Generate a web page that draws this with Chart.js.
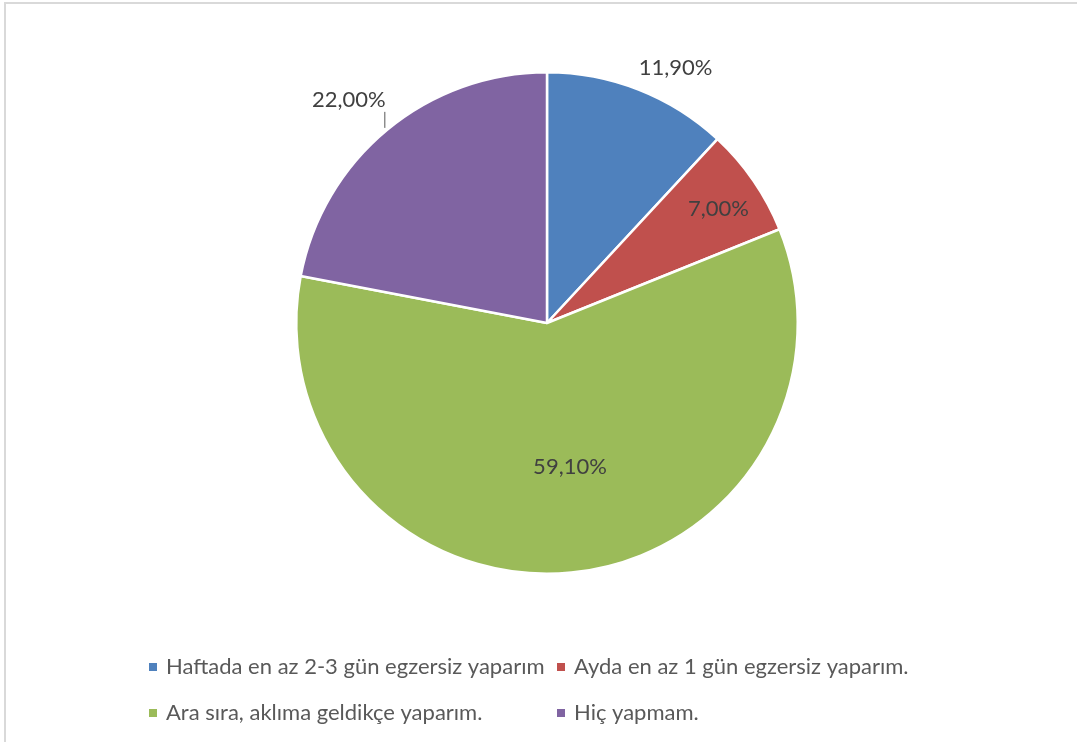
<!DOCTYPE html>
<html>
<head>
<meta charset="utf-8">
<script src="https://cdn.jsdelivr.net/npm/chart.js@4/dist/chart.umd.min.js"></script>
<style>
  html, body { margin: 0; padding: 0; background: #fff; }
  #wrap { position: relative; width: 1077px; height: 742px; overflow: hidden; }
  #frame { position: absolute; left: 4px; top: 2px; width: 1100px; height: 760px;
           border-top: 2px solid #d9d9d9; border-left: 2px solid #d9d9d9; }
  canvas { position: absolute; left: 0; top: 0; }
</style>
</head>
<body>
<div id="wrap">
  <div id="frame"></div>
  <canvas id="myChart"></canvas>
</div>
<script>
const categories = [
    'Haftada en az 2-3 gün egzersiz yaparım',
    'Ayda en az 1 gün egzersiz yaparım.',
    'Ara sıra, aklıma geldikçe yaparım.',
    'Hiç yapmam.'
];
const percents = [11.9, 7.0, 59.1, 22.0];
const colors = ['#4F81BD', '#C0504D', '#9BBB59', '#8064A2'];

const FONT = '22px Lato, "Open Sans", sans-serif';

// where each percentage label sits: distance as a share of the radius, plus a small angle nudge (deg)
const labelPlace = [
    { r: 1.14, da: 5.3 },
    { r: 0.82, da: 1.0 },
    { r: 0.58, da: -3.5 },
    { r: 1.19, da: -2.0, leader: true }
];

const pctLabels = {
    id: 'pctLabels',
    afterDatasetsDraw(chart) {
        const c = chart.ctx;
        const arcs = chart.getDatasetMeta(0).data;
        c.save();
        c.font = FONT;
        c.fillStyle = '#404040';
        c.textAlign = 'center';
        c.textBaseline = 'middle';
        arcs.forEach((arc, i) => {
            const mid = (arc.startAngle + arc.endAngle) / 2 + labelPlace[i].da * Math.PI / 180;
            const d = arc.outerRadius * labelPlace[i].r;
            const x = arc.x + Math.cos(mid) * d;
            const y = arc.y + Math.sin(mid) * d;
            const txt = percents[i].toFixed(2).replace('.', ',') + '%';
            c.fillText(txt, x, y);
            if (labelPlace[i].leader) {
                const w = c.measureText(txt).width;
                c.strokeStyle = '#8c8c8c';
                c.lineWidth = 1.5;
                c.beginPath();
                c.moveTo(x + w / 2 - 1, y + 12);
                c.lineTo(x + w / 2 - 1, y + 28);
                c.stroke();
            }
        });
        c.restore();
    }
};

// two-column legend under the pie
const gridLegend = {
    id: 'gridLegend',
    afterDraw(chart) {
        const c = chart.ctx;
        const cols = [149, 557];
        const rows = [667, 713];
        c.save();
        c.font = FONT;
        c.textBaseline = 'middle';
        c.textAlign = 'left';
        chart.data.labels.forEach((lab, i) => {
            const x = cols[i % 2];
            const y = rows[Math.floor(i / 2)];
            c.fillStyle = colors[i];
            c.fillRect(x, y - 4, 8, 8);
            c.fillStyle = '#595959';
            c.fillText(lab, x + 17, y);
        });
        c.restore();
    }
};

const ctx = document.getElementById('myChart');
ctx.width = 1077;
ctx.height = 742;

new Chart(ctx, {
    type: 'pie',
    data: {
        labels: categories,
        datasets: [{
            data: percents,
            backgroundColor: colors,
            borderColor: '#ffffff',
            borderWidth: 2.5
        }]
    },
    options: {
        responsive: false,
        animation: false,
        layout: { padding: { top: 71, bottom: 167, left: 100, right: 83 } },
        plugins: {
            legend: { display: false },
            tooltip: { enabled: false }
        }
    },
    plugins: [pctLabels, gridLegend]
});
</script>
</body>
</html>
